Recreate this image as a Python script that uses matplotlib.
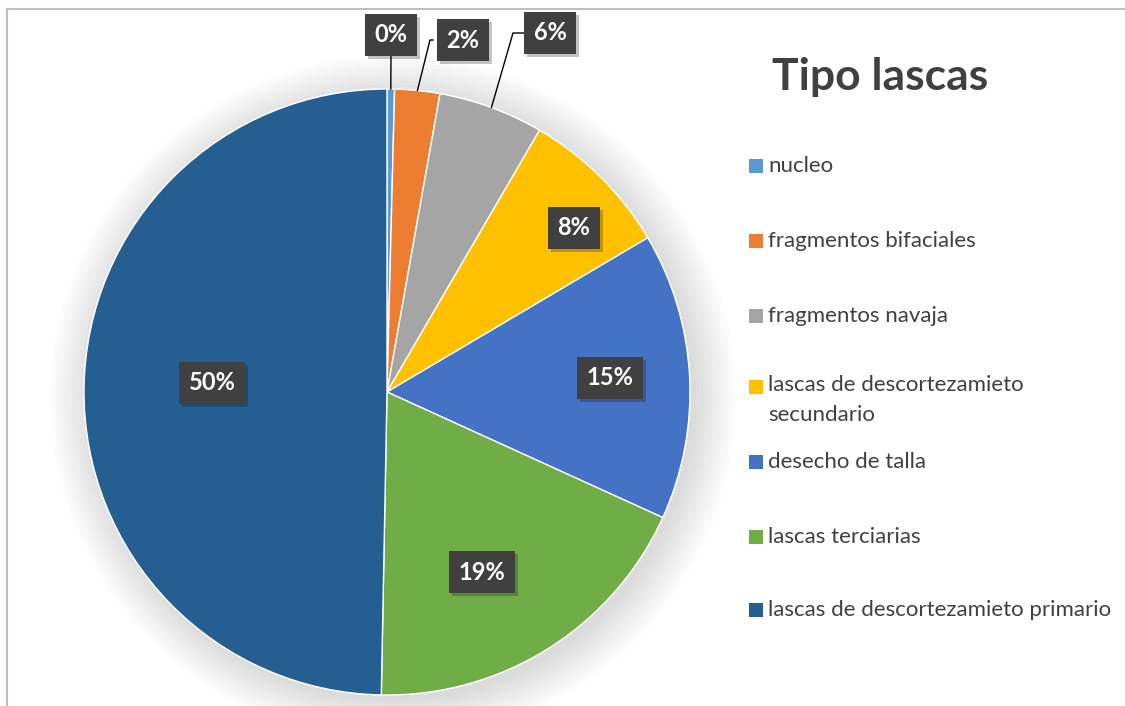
import matplotlib.pyplot as plt
import matplotlib.patheffects as pe
from matplotlib.lines import Line2D
from matplotlib.patches import Rectangle, Circle
import numpy as np

plt.rcParams['font.family'] = ['Lato', 'DejaVu Sans']

# datos
categorias = ['nucleo', 'fragmentos bifaciales', 'fragmentos navaja',
              'lascas de descortezamieto\nsecundario', 'desecho de talla',
              'lascas terciarias', 'lascas de descortezamieto primario']
porcentajes = [0.4, 2.4, 5.6, 8.1, 15.3, 18.5, 49.7]
etiquetas = ['0%', '2%', '6%', '8%', '15%', '19%', '50%']
colores = ['#5B9BD5', '#ED7D31', '#A5A5A5', '#FFC000', '#4472C4', '#70AD47', '#255E91']

W, H = 1125, 706
fig = plt.figure(figsize=(W / 100, H / 100), dpi=100)

# centro y radio de la tarta en pixeles
cx, cy, r = 387, 392, 303
ax = fig.add_axes([(cx - r) / W, (H - cy - r) / H, 2 * r / W, 2 * r / H])

# sombra suave
for k in range(12):
    ax.add_patch(Circle((0.02, -0.02), 1 + k * 0.012, color='#000000',
                        alpha=0.012, lw=0, zorder=0, clip_on=False))
ax.add_patch(Circle((0, 0), 1.0, color='white', zorder=0.5))

wedges, _ = ax.pie(porcentajes, colors=colores, startangle=90, counterclock=False,
                   radius=1, wedgeprops=dict(edgecolor='white', linewidth=1))
for w in wedges:
    w.set_zorder(1)
ax.set_xlim(-1, 1)
ax.set_ylim(-1, 1)
ax.set_aspect('equal')
ax.axis('off')

def px(x, y):
    return (x - cx) / r, (cy - y) / r

# posiciones de etiquetas (pixeles)
pos_etq = [(391, 35), (463, 40), (550, 33), (574, 228), (610, 378), (482, 572), (212, 383)]
# lineas guia para las porciones chicas: (codo en x, borde izq caja)
guias = {0: None, 1: (430, 433), 2: (513, 526)}

for i, (txt, (x, y)) in enumerate(zip(etiquetas, pos_etq)):
    tx, ty = px(x, y)
    t = ax.text(tx, ty, txt, ha='center', va='center', color='white',
                fontsize=17, fontweight='bold', zorder=5, clip_on=False,
                bbox=dict(boxstyle='square,pad=0.4', facecolor='#404040',
                          edgecolor='none'))
    t.get_bbox_patch().set_path_effects([pe.SimplePatchShadow(offset=(2, -2), alpha=0.25),
                                         pe.Normal()])
    if i in guias:
        w = wedges[i]
        mid = np.deg2rad((w.theta1 + w.theta2) / 2)
        ex, ey = np.cos(mid), np.sin(mid)
        if guias[i] is None:
            xs, ys = [ex, tx], [ey, ty - 0.06]
        else:
            codo, borde = guias[i]
            bx, _ = px(borde, y)
            kx, _ = px(codo, y)
            xs, ys = [ex, kx, bx], [ey, ty, ty]
        ax.add_line(Line2D(xs, ys, color='black', lw=1, zorder=4, clip_on=False))

# marco
fig.add_artist(Line2D([7 / W, 1], [1 - 9 / H, 1 - 9 / H], color='#BFBFBF', lw=1.5))
fig.add_artist(Line2D([7 / W, 7 / W], [0, 1 - 9 / H], color='#BFBFBF', lw=1.5))

# titulo
fig.text(880 / W, 1 - 77 / H, 'Tipo lascas', ha='center', va='center',
         fontsize=32, fontweight='bold', color='#404040')

# leyenda
ley_y = [166, 241, 316, 387, 462, 537, 610]
for cat, col, y in zip(categorias, colores, ley_y):
    fig.add_artist(Rectangle((749 / W, 1 - (y + 7) / H), 14 / W, 14 / H,
                             transform=fig.transFigure, facecolor=col, edgecolor='none'))
    if '\n' in cat:
        fig.text(768 / W, 1 - (y - 12) / H, cat, ha='left', va='top',
                 fontsize=16, color='#404040', linespacing=1.62)
    else:
        fig.text(768 / W, 1 - y / H, cat, ha='left', va='center',
                 fontsize=16, color='#404040')

fig.savefig('out.png', dpi=100)
